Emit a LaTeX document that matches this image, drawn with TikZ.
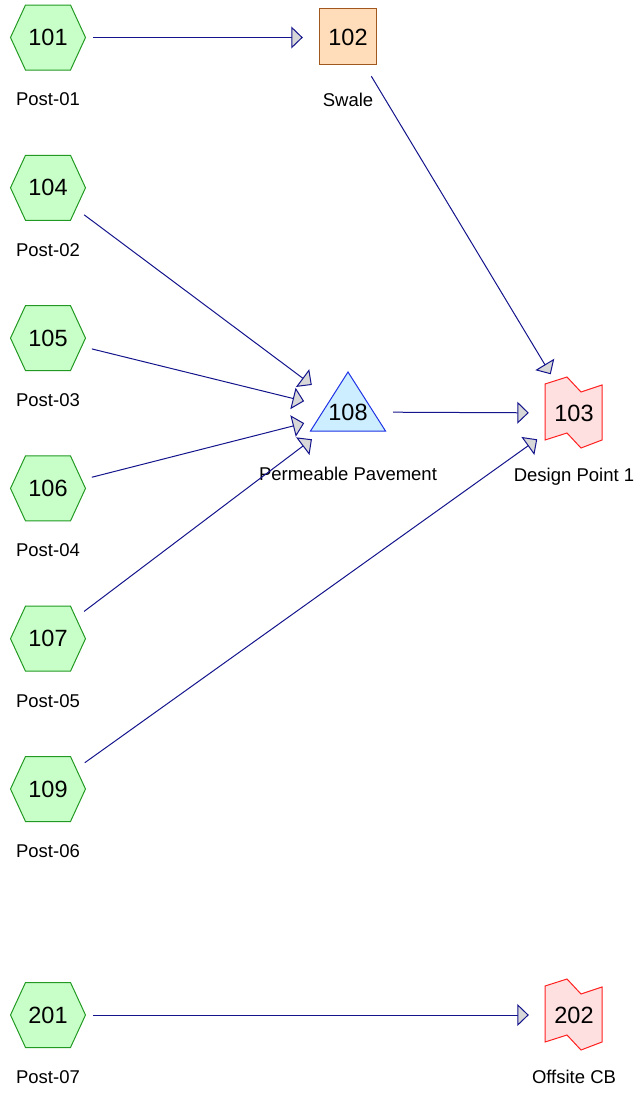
\documentclass[tikz,border=0pt]{standalone}
\usepackage{fontspec}
\setmainfont{Liberation Sans}
\usetikzlibrary{arrows.meta, positioning, backgrounds}
\definecolor{subfill}{HTML}{C8FFC8}
\definecolor{subline}{HTML}{229922}
\definecolor{reachfill}{HTML}{FFDDBB}
\definecolor{reachline}{HTML}{A0581E}
\definecolor{pondfill}{HTML}{CCEEFF}
\definecolor{pondline}{HTML}{1E32E6}
\definecolor{linkfill}{HTML}{FFE0E0}
\definecolor{linkline}{HTML}{FF2020}
\definecolor{flowline}{HTML}{14148C}
\definecolor{tipfill}{HTML}{D8D8D8}
\begin{document}
\begin{tikzpicture}[x=1pt, y=-1pt,
    unit/.style={circle, minimum size=90pt, inner sep=0pt,
        font=\fontsize{23.5}{24}\selectfont},
    tag/.style={inner sep=0pt, font=\fontsize{18.5}{19}\selectfont},
    outline/.style={line width=1pt, draw=#1line, fill=#1fill},
    flow/.style={draw=flowline, line width=1pt,
        -{Triangle[length=11.5pt, width=22pt, fill=tipfill]}}]
    \useasboundingbox (0, 0) rectangle (644, 1093);
    % subbasins down the left side
    \node [unit] (n101) at (48, 37.5) {101};
    \node [unit] (n104) at (48, 187.8) {104};
    \node [unit] (n105) at (48, 338.1) {105};
    \node [unit] (n106) at (48, 488.4) {106};
    \node [unit] (n107) at (48, 638.7) {107};
    \node [unit] (n109) at (48, 789) {109};
    \node [unit] (n201) at (48, 1015) {201};
    \node [unit] (n102) at (348, 37.5) {102};
    \node [unit] (n108) at (348, 412) {108};
    \node [unit] (n103) at (574, 413) {103};
    \node [unit] (n202) at (574, 1015) {202};
    % shapes behind the numbers
    \begin{scope}[on background layer]
        \foreach \n in {101, 104, 105, 106, 107, 109, 201}
            \filldraw [outline=sub, shift={(n\n)}] (-37.5, 0) -- (-22.5, -32.5)
                -- (22.5, -32.5) -- (37.5, 0) -- (22.5, 32.5) -- (-22.5, 32.5)
                -- cycle;
        \filldraw [outline=reach, shift={(n102)}] (-28.5, -29.5) rectangle (28.5, 26.5);
        \filldraw [outline=pond, shift={(n108)}] (0, -40) -- (37.5, 19)
            -- (-37.5, 19) -- cycle;
        \foreach \n in {103, 202}
            \filldraw [outline=link, shift={(n\n)}] (-29, -29) -- (-7, -36)
                -- (7, -21) -- (28, -28) -- (28, 27) -- (7, 35) -- (-7, 20)
                -- (-29, 27) -- cycle;
    \end{scope}
    % names under the nodes
    \node [tag, below=10pt of n101] (l101) {Post-01};
    \node [tag, below=10pt of n104] (l104) {Post-02};
    \node [tag, below=10pt of n105] (l105) {Post-03};
    \node [tag, below=10pt of n106] (l106) {Post-04};
    \node [tag, below=10pt of n107] (l107) {Post-05};
    \node [tag, below=10pt of n109] (l109) {Post-06};
    \node [tag, below=10pt of n201] (l201) {Post-07};
    \node [tag, below=10pt of n102] (l102) {Swale};
    \node [tag, below=10pt of n108] (l108) {Permeable Pavement};
    \node [tag, below=10pt of n103] (l103) {Design Point 1};
    \node [tag, below=10pt of n202] (l202) {Offsite CB};
    % routing
    \draw [flow] (n101) -- (n102);
    \draw [flow] (n102) -- (n103);
    \foreach \s in {104, 105, 106, 107}
        \draw [flow] (n\s) -- (n108);
    \draw [flow] (n108) -- (n103);
    \draw [flow] (n109) -- (n103);
    \draw [flow] (n201) -- (n202);
\end{tikzpicture}
\end{document}
